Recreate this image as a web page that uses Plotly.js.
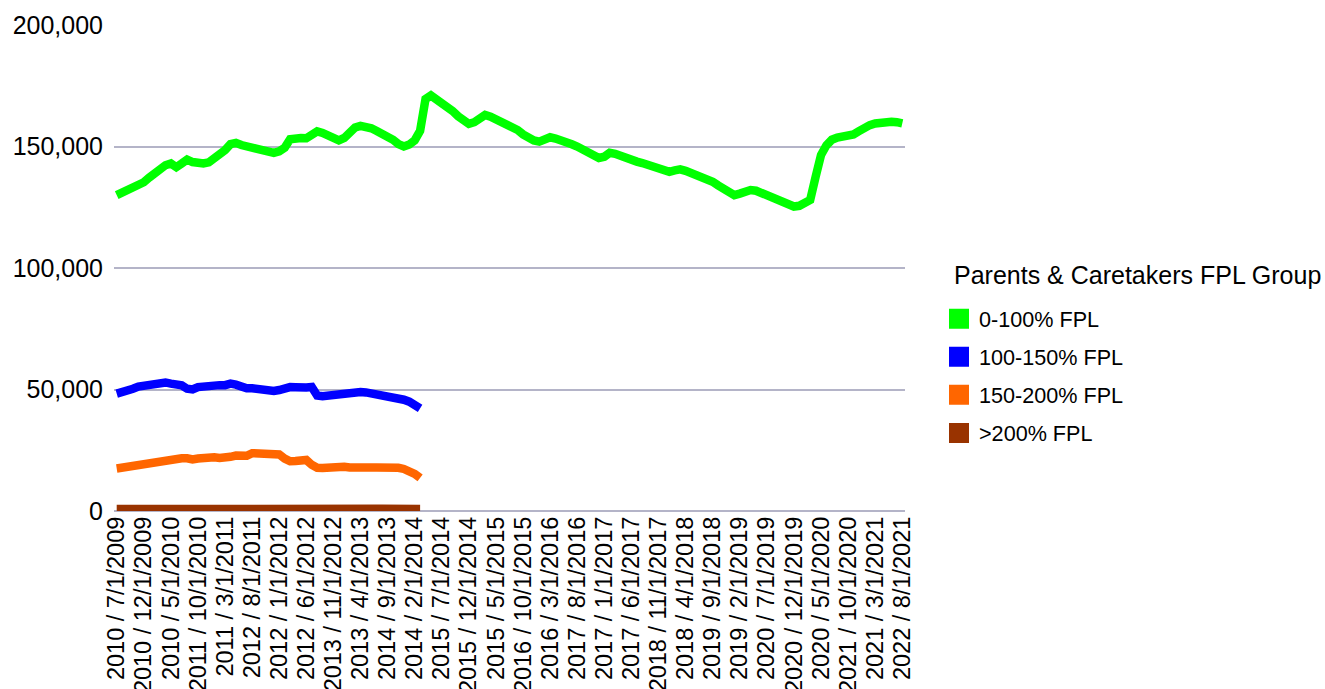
<!DOCTYPE html>
<html>
<head>
<meta charset="utf-8">
<script src="https://cdn.plot.ly/plotly-3.0.1.min.js"></script>
<style>html,body{margin:0;padding:0;background:#fff;}#chart{width:1325px;height:689px;}</style>
</head>
<body>
<div id="chart"></div>
<script>
// Months covered: 7/2009 .. 8/2021 (category labels "FiscalYear / M/1/YYYY")
const startYear = 2009, startMonth = 7, monthCount = 146;
const categories = [];
for (let k = 0; k < monthCount; k++) {
  const m = ((startMonth - 1 + k) % 12) + 1;
  const y = startYear + Math.floor((startMonth - 1 + k) / 12);
  const fy = m >= 7 ? y + 1 : y;
  categories.push(fy + " / " + m + "/1/" + y);
}
const tickLabels = categories.filter((c, i) => i % 5 === 0);

const legendTitle = "Parents & Caretakers FPL Group";
const seriesNames = ["0-100% FPL", "100-150% FPL", "150-200% FPL", ">200% FPL"];
const seriesColors = ["#00ff00", "#0000ff", "#ff6600", "#993300"];

const fpl0to100 = [
  130000,131000,131800,133000,134000,135300,137200,139200,140800,142300,
  143000,141500,143000,144600,143600,143200,143000,143500,145000,146800,
  148500,151000,151500,150600,150000,149800,149000,148000,147600,147400,
  148000,149500,153000,153600,153500,153400,155000,156200,155600,154800,
  153500,152500,153500,155500,157800,158500,158400,157500,156400,155400,
  154200,152800,151000,150000,150800,152500,156500,169500,171000,169500,
  168000,166800,164600,162500,160900,159300,160000,162000,163000,162300,
  161300,160400,159200,158200,156800,155000,153600,152500,152000,153000,
  153800,153300,152800,152000,150900,150000,148700,147000,145800,145300,
  145800,147400,147000,146000,145200,144500,143800,143200,142500,141200,
  140300,140000,139600,140200,140600,140000,139200,138300,137300,136500,
  135500,134000,132600,131300,130000,130600,131500,132100,131800,130800,
  130600,129400,128300,127000,126000,125300,125600,126500,128000,137500,
  146500,150500,152800,153700,154000,154000,155000,156300,157800,158800,
  159500,160000,160200,160200,160000,159500
];
const fpl100to150 = [
  48300,48800,49200,50300,51200,51700,52200,52600,53000,52900,
  52400,52000,51700,50300,50000,51000,51400,51700,51800,51800,
  51800,52400,52000,50800,50500,50500,50200,49600,49200,49400,
  49800,50600,51000,50900,50500,50800,51000,47500,47200,47500,
  47700,48000,48400,48800,49000,49000,48800,48400,48200,48000,
  47700,47200,46500,45800,45000,43800,42200
];
const fpl150to200 = [
  17500,17900,18500,18900,19300,19600,19800,19900,20300,21000,
  21600,21700,21700,21700,21200,21600,22000,22300,22100,21800,
  21800,22300,22800,22800,22700,23800,23600,23500,23400,23400,
  23300,21600,20500,20600,21200,21000,19000,17800,17700,18000,
  18200,18300,18200,17900,17700,17600,17800,17900,17900,18000,
  18200,18100,17800,17300,16500,15300,13600
];
const fplOver200 = [
  800,820,850,870,880,900,900,910,920,930,
  930,940,940,950,950,950,960,960,960,970,
  970,980,980,990,990,1000,1000,1000,990,990,
  980,980,970,970,970,960,960,960,950,950,
  950,950,950,940,940,940,930,930,930,920,
  920,910,900,890,880,860,840
];
const seriesValues = [fpl0to100, fpl100to150, fpl150to200, fplOver200];

const traces = [];
// draw lower series first, green last on top
for (let s = seriesValues.length - 1; s >= 0; s--) {
  const vals = seriesValues[s];
  traces.push({
    type: "scatter", mode: "lines",
    x: categories.slice(0, vals.length), y: vals,
    line: {color: seriesColors[s], width: 8.5, shape: "linear"},
    showlegend: false, name: seriesNames[s]
  });
}
// legend entries with square swatches
for (let s = 0; s < seriesNames.length; s++) {
  traces.push({
    type: "scatter", mode: "markers",
    x: [null], y: [null],
    name: seriesNames[s], legendgroup: "g" + s,
    marker: {symbol: "square", size: 16, color: seriesColors[s], line: {color: seriesColors[s], width: 4}},
    showlegend: true
  });
}

const layout = {
  width: 1325, height: 689,
  margin: {l: 114, r: 420, t: 25, b: 178, pad: 0},
  paper_bgcolor: "#ffffff", plot_bgcolor: "#ffffff",
  font: {family: "Liberation Sans, Arial, sans-serif", color: "#000000"},
  showlegend: true,
  legend: {
    x: 1.043, xanchor: "left", y: 0.438, yanchor: "top",
    traceorder: "grouped", tracegroupgap: 7,
    font: {size: 21.6, color: "#000000"},
    bgcolor: "rgba(0,0,0,0)"
  },
  annotations: [{
    text: legendTitle, xref: "paper", yref: "paper",
    x: 1.0594, y: 0.4856, xanchor: "left", yanchor: "middle",
    showarrow: false, font: {size: 25, color: "#000000"}
  }],
  xaxis: {
    type: "category", categoryorder: "array", categoryarray: categories,
    range: [-0.5, monthCount - 0.5],
    tickmode: "array", tickvals: tickLabels, ticktext: tickLabels,
    tickangle: -90, tickfont: {size: 23.5, color: "#000000"},
    showgrid: false, zeroline: false, showline: false, ticks: "",
    fixedrange: true
  },
  yaxis: {
    range: [0, 200000], tickvals: [0, 50000, 100000, 150000, 200000],
    tickformat: ",d", tickfont: {size: 25, color: "#000000"},
    showgrid: true, gridcolor: "#b4b4c8", gridwidth: 2,
    zeroline: true, zerolinecolor: "#b4b4c8", zerolinewidth: 2,
    showline: false, ticks: "", ticklabelstandoff: 10, fixedrange: true
  }
};

Plotly.newPlot("chart", traces, layout, {displayModeBar: false, staticPlot: true});
</script>
</body>
</html>
